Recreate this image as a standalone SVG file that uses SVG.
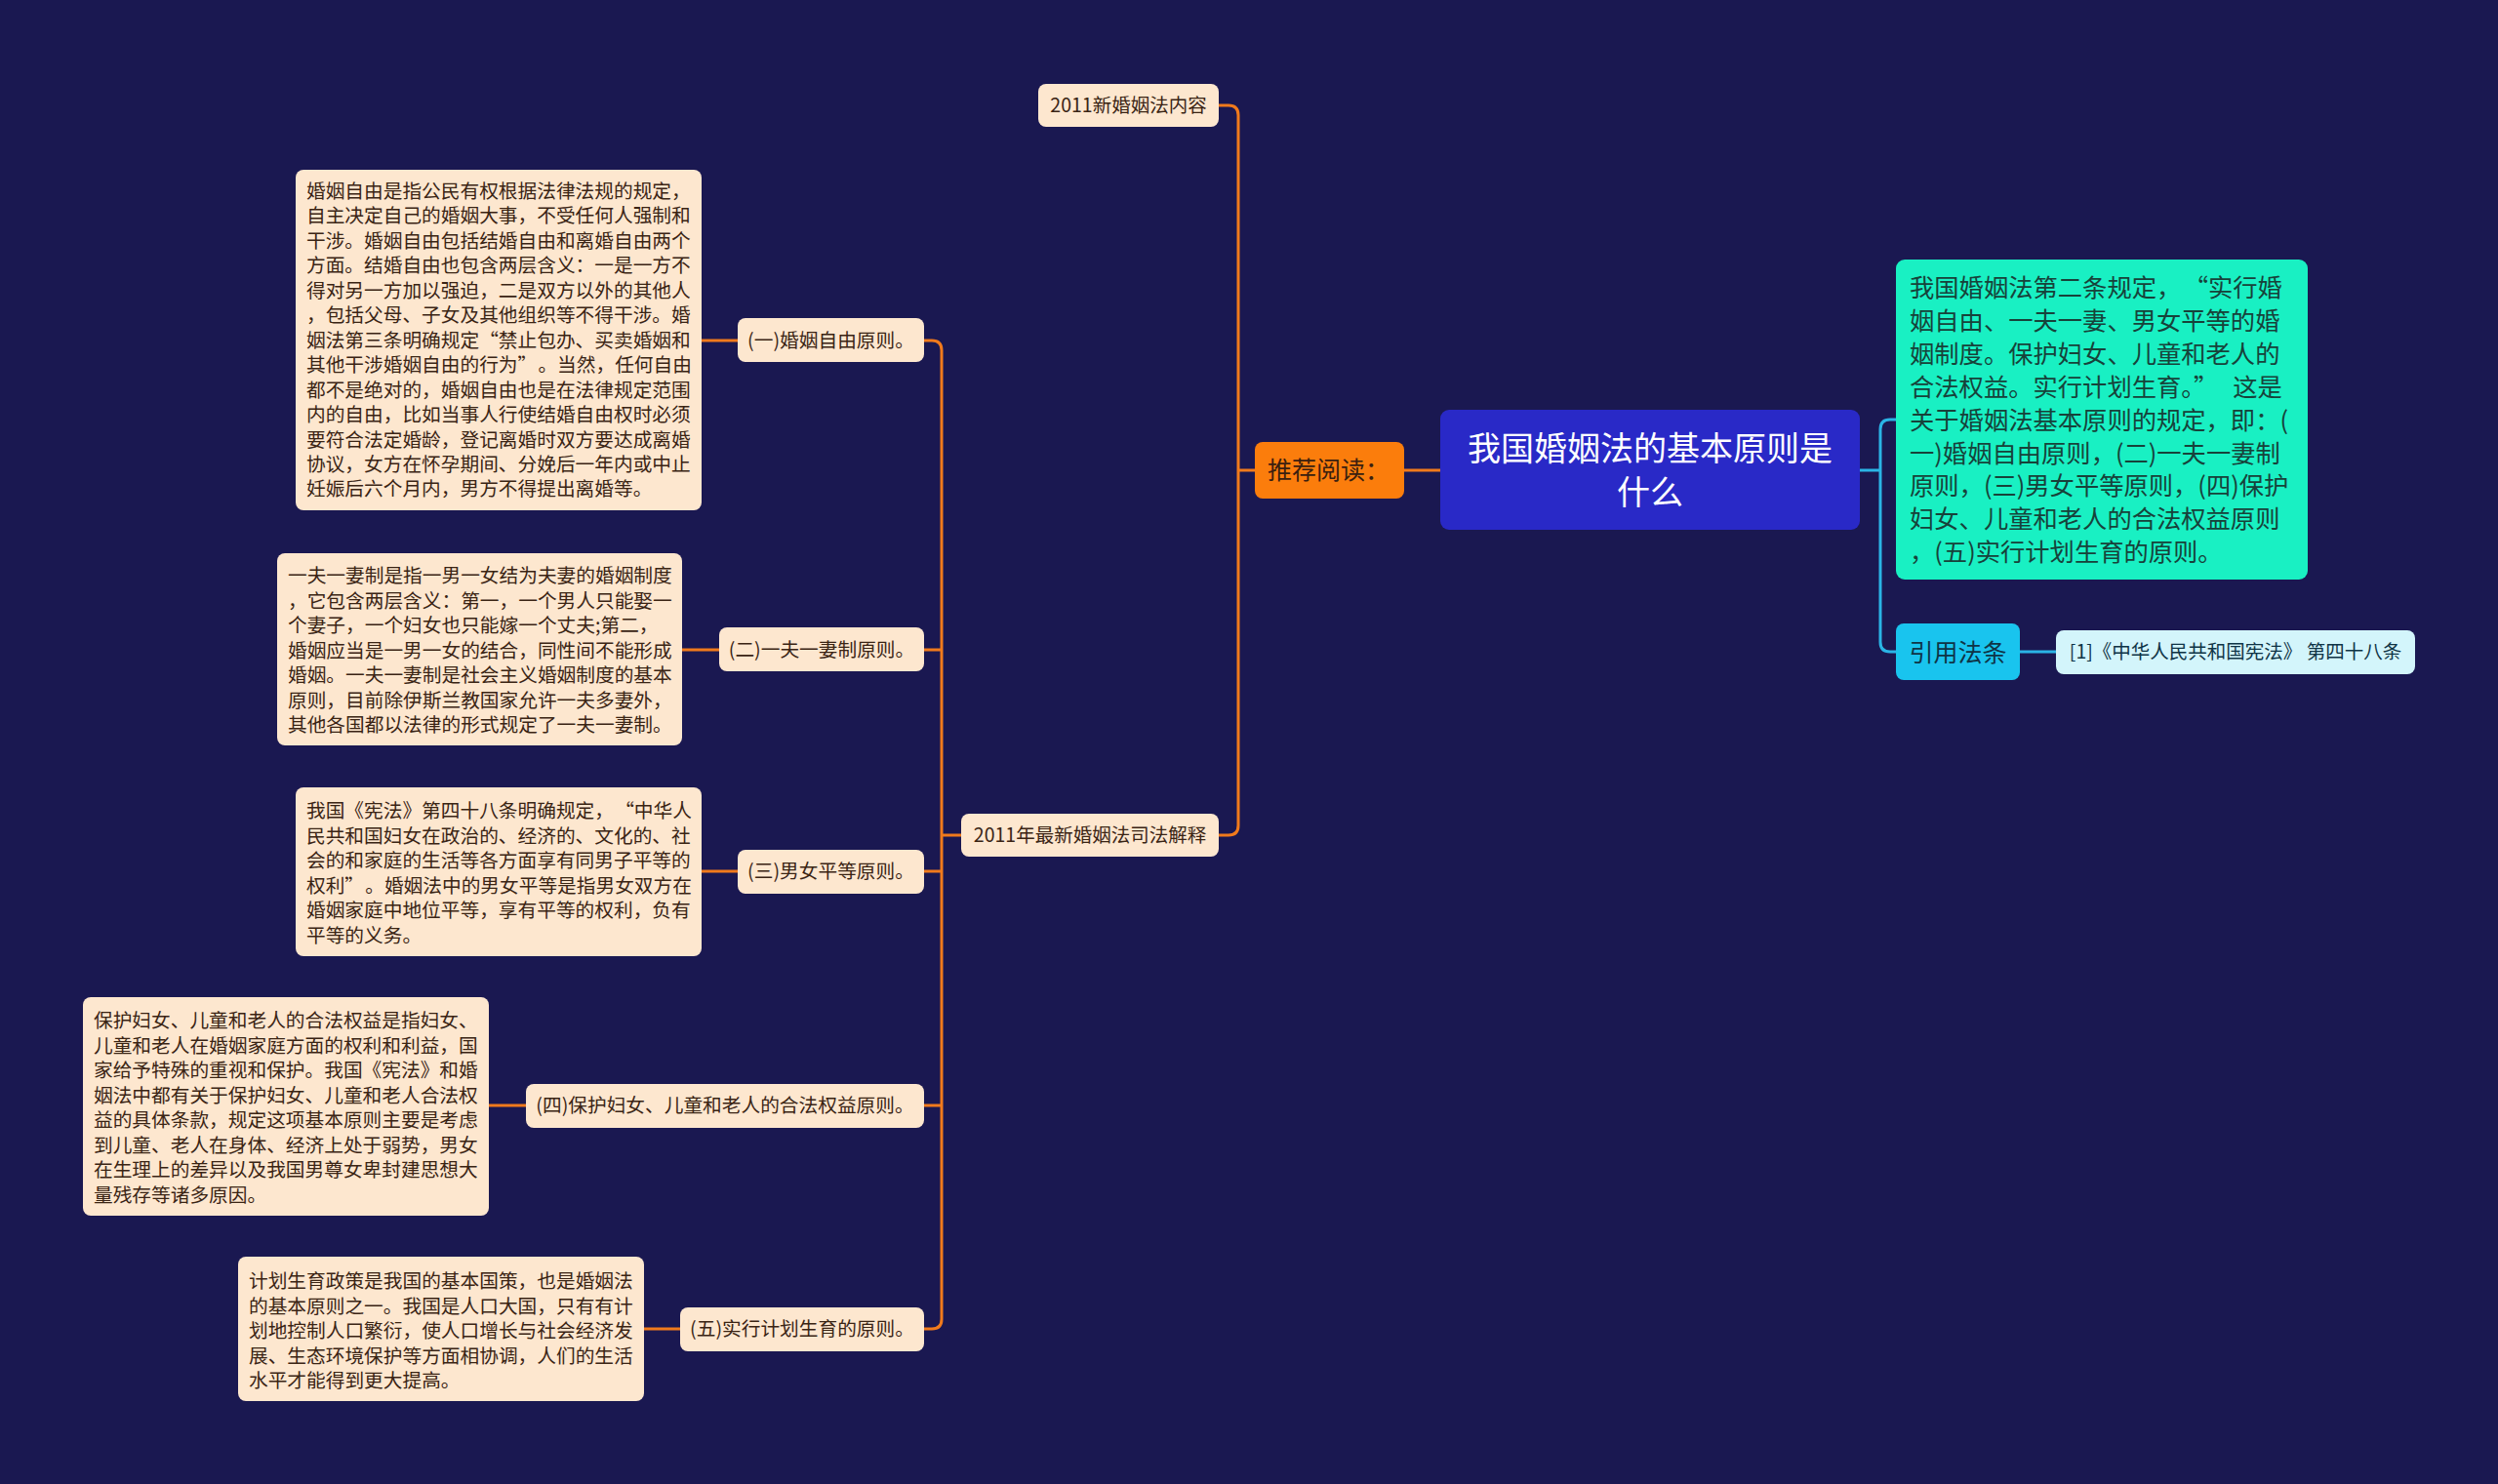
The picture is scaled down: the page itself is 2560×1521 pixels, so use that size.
<svg xmlns="http://www.w3.org/2000/svg" width="2560" height="1521" viewBox="0 0 2560 1521">
<style>
text{font-family:"Noto Sans CJK SC","Noto Sans",sans-serif}
.peach{fill:#fde7cf}
.pt{fill:#3a2414;font-size:19.7px}
.lt{fill:#3a2414;font-size:19.7px;text-anchor:middle}
.oc{fill:none;stroke:#f07a1c;stroke-width:3}
.bc{fill:none;stroke:#2ab4e6;stroke-width:3}
.tt{fill:#17423a;font-size:25.3px}
</style>
<rect x="0" y="0" width="2560" height="1521" fill="#1a1851"/>
<g id="connectors">
<path class="oc" d="M1439 482H1476"/>
<path class="oc" d="M1249 108H1259Q1269 108 1269 118V846Q1269 856 1259 856H1249"/>
<path class="oc" d="M1269 482H1286"/>
<path class="oc" d="M985 856H965"/>
<path class="oc" d="M947 349H955Q965 349 965 359V1352Q965 1362 955 1362H947"/>
<path class="oc" d="M947 666H965M947 893H965M947 1133H965"/>
<path class="oc" d="M719 349H756M699 666H737M719 893H756M501 1133H539M660 1362H697"/>
<path class="bc" d="M1906 482H1927"/>
<path class="bc" d="M1943 430H1937Q1927 430 1927 440V658Q1927 668 1937 668H1943"/>
<path class="bc" d="M2070 668H2107"/>
</g>
<g id="central">
<rect x="1476" y="420" width="430" height="123" rx="9" fill="#2929c7"/>
<text x="1691" y="472" font-size="34" fill="#ffffff" text-anchor="middle">我国婚姻法的基本原则是</text>
<text x="1691" y="517" font-size="34" fill="#ffffff" text-anchor="middle">什么</text>
</g>
<g id="tuijian">
<rect x="1286" y="453" width="153" height="58" rx="8" fill="#fb7d0c"/>
<text x="1299" y="491" font-size="25" fill="#3a2010">推荐阅读：</text>
</g>
<g id="xinhunyin">
<rect class="peach" x="1064" y="86" width="185" height="44" rx="8"/>
<text x="1156.5" y="115" font-size="19.5" fill="#3a2414" text-anchor="middle">2011新婚姻法内容</text>
</g>
<g id="sifajieshi">
<rect class="peach" x="985" y="834" width="264" height="44" rx="8"/>
<text x="1117" y="863" font-size="19.5" fill="#3a2414" text-anchor="middle">2011年最新婚姻法司法解释</text>
</g>
<g id="label1">
<rect class="peach" x="756" y="326" width="191" height="45" rx="8"/>
<text class="lt" x="851.5" y="356">(一)婚姻自由原则。</text>
</g>
<g id="label2">
<rect class="peach" x="737" y="643" width="210" height="45" rx="8"/>
<text class="lt" x="842" y="673">(二)一夫一妻制原则。</text>
</g>
<g id="label3">
<rect class="peach" x="756" y="871" width="191" height="45" rx="8"/>
<text class="lt" x="851.5" y="900">(三)男女平等原则。</text>
</g>
<g id="label4">
<rect class="peach" x="539" y="1111" width="408" height="45" rx="8"/>
<text class="lt" x="743" y="1140">(四)保护妇女、儿童和老人的合法权益原则。</text>
</g>
<g id="label5">
<rect class="peach" x="697" y="1340" width="250" height="45" rx="8"/>
<text class="lt" x="822" y="1369">(五)实行计划生育的原则。</text>
</g>
<g id="text1">
<rect class="peach" x="303" y="174" width="416" height="349" rx="8"/>
<text class="pt" x="314" y="203">婚姻自由是指公民有权根据法律法规的规定，</text>
<text class="pt" x="314" y="228.4">自主决定自己的婚姻大事，不受任何人强制和</text>
<text class="pt" x="314" y="253.9">干涉。婚姻自由包括结婚自由和离婚自由两个</text>
<text class="pt" x="314" y="279.3">方面。结婚自由也包含两层含义：一是一方不</text>
<text class="pt" x="314" y="304.8">得对另一方加以强迫，二是双方以外的其他人</text>
<text class="pt" x="314" y="330.2">，包括父母、子女及其他组织等不得干涉。婚</text>
<text class="pt" x="314" y="355.7">姻法第三条明确规定“禁止包办、买卖婚姻和</text>
<text class="pt" x="314" y="381.1">其他干涉婚姻自由的行为”<tspan dx="11">。</tspan>当然，任何自由</text>
<text class="pt" x="314" y="406.6">都不是绝对的，婚姻自由也是在法律规定范围</text>
<text class="pt" x="314" y="432">内的自由，比如当事人行使结婚自由权时必须</text>
<text class="pt" x="314" y="457.5">要符合法定婚龄，登记离婚时双方要达成离婚</text>
<text class="pt" x="314" y="482.9">协议，女方在怀孕期间、分娩后一年内或中止</text>
<text class="pt" x="314" y="508.4">妊娠后六个月内，男方不得提出离婚等。</text>
</g>
<g id="text2">
<rect class="peach" x="284" y="567" width="415" height="197" rx="8"/>
<text class="pt" x="295" y="597">一夫一妻制是指一男一女结为夫妻的婚姻制度</text>
<text class="pt" x="295" y="622.5">，它包含两层含义：第一，一个男人只能娶一</text>
<text class="pt" x="295" y="648">个妻子，一个妇女也只能嫁一个丈夫;第二，</text>
<text class="pt" x="295" y="673.5">婚姻应当是一男一女的结合，同性间不能形成</text>
<text class="pt" x="295" y="699">婚姻。一夫一妻制是社会主义婚姻制度的基本</text>
<text class="pt" x="295" y="724.5">原则，目前除伊斯兰教国家允许一夫多妻外，</text>
<text class="pt" x="295" y="750">其他各国都以法律的形式规定了一夫一妻制。</text>
</g>
<g id="text3">
<rect class="peach" x="303" y="807" width="416" height="173" rx="8"/>
<text class="pt" x="314" y="838">我国《宪法》第四十八条明确规定，<tspan dx="11">“</tspan>中华人</text>
<text class="pt" x="314" y="863.5">民共和国妇女在政治的、经济的、文化的、社</text>
<text class="pt" x="314" y="889">会的和家庭的生活等各方面享有同男子平等的</text>
<text class="pt" x="314" y="914.5">权利”<tspan dx="11">。</tspan>婚姻法中的男女平等是指男女双方在</text>
<text class="pt" x="314" y="940">婚姻家庭中地位平等，享有平等的权利，负有</text>
<text class="pt" x="314" y="965.5">平等的义务。</text>
</g>
<g id="text4">
<rect class="peach" x="85" y="1022" width="416" height="224" rx="8"/>
<text class="pt" x="96" y="1053">保护妇女、儿童和老人的合法权益是指妇女、</text>
<text class="pt" x="96" y="1078.5">儿童和老人在婚姻家庭方面的权利和利益，国</text>
<text class="pt" x="96" y="1104">家给予特殊的重视和保护。我国《宪法》和婚</text>
<text class="pt" x="96" y="1129.5">姻法中都有关于保护妇女、儿童和老人合法权</text>
<text class="pt" x="96" y="1155">益的具体条款，规定这项基本原则主要是考虑</text>
<text class="pt" x="96" y="1180.5">到儿童、老人在身体、经济上处于弱势，男女</text>
<text class="pt" x="96" y="1206">在生理上的差异以及我国男尊女卑封建思想大</text>
<text class="pt" x="96" y="1231.5">量残存等诸多原因。</text>
</g>
<g id="text5">
<rect class="peach" x="244" y="1288" width="416" height="148" rx="8"/>
<text class="pt" x="255" y="1320">计划生育政策是我国的基本国策，也是婚姻法</text>
<text class="pt" x="255" y="1345.5">的基本原则之一。我国是人口大国，只有有计</text>
<text class="pt" x="255" y="1371">划地控制人口繁衍，使人口增长与社会经济发</text>
<text class="pt" x="255" y="1396.5">展、生态环境保护等方面相协调，人们的生活</text>
<text class="pt" x="255" y="1422">水平才能得到更大提高。</text>
</g>
<g id="summary">
<rect x="1943" y="266" width="422" height="328" rx="9" fill="#19f0c3"/>
<text class="tt" x="1957" y="304">我国婚姻法第二条规定，<tspan dx="15">“</tspan>实行婚</text>
<text class="tt" x="1957" y="337.9">姻自由、一夫一妻、男女平等的婚</text>
<text class="tt" x="1957" y="371.8">姻制度。保护妇女、儿童和老人的</text>
<text class="tt" x="1957" y="405.7">合法权益。实行计划生育。”<tspan dx="15">这</tspan>是</text>
<text class="tt" x="1957" y="439.6">关于婚姻法基本原则的规定，即：(</text>
<text class="tt" x="1957" y="473.5">一)婚姻自由原则，(二)一夫一妻制</text>
<text class="tt" x="1957" y="507.4">原则，(三)男女平等原则，(四)保护</text>
<text class="tt" x="1957" y="541.3">妇女、儿童和老人的合法权益原则</text>
<text class="tt" x="1957" y="575.2">，(五)实行计划生育的原则。</text>
</g>
<g id="yinyong">
<rect x="1943" y="639" width="127" height="58" rx="8" fill="#19c4ee"/>
<text x="2006.5" y="678" font-size="25" fill="#0f3446" text-anchor="middle">引用法条</text>
</g>
<g id="citation">
<rect x="2107" y="646" width="368" height="45" rx="8" fill="#d3f5fb"/>
<text x="2291" y="675" font-size="19.5" fill="#0f3446" text-anchor="middle">[1]《中华人民共和国宪法》 第四十八条</text>
</g>
</svg>
